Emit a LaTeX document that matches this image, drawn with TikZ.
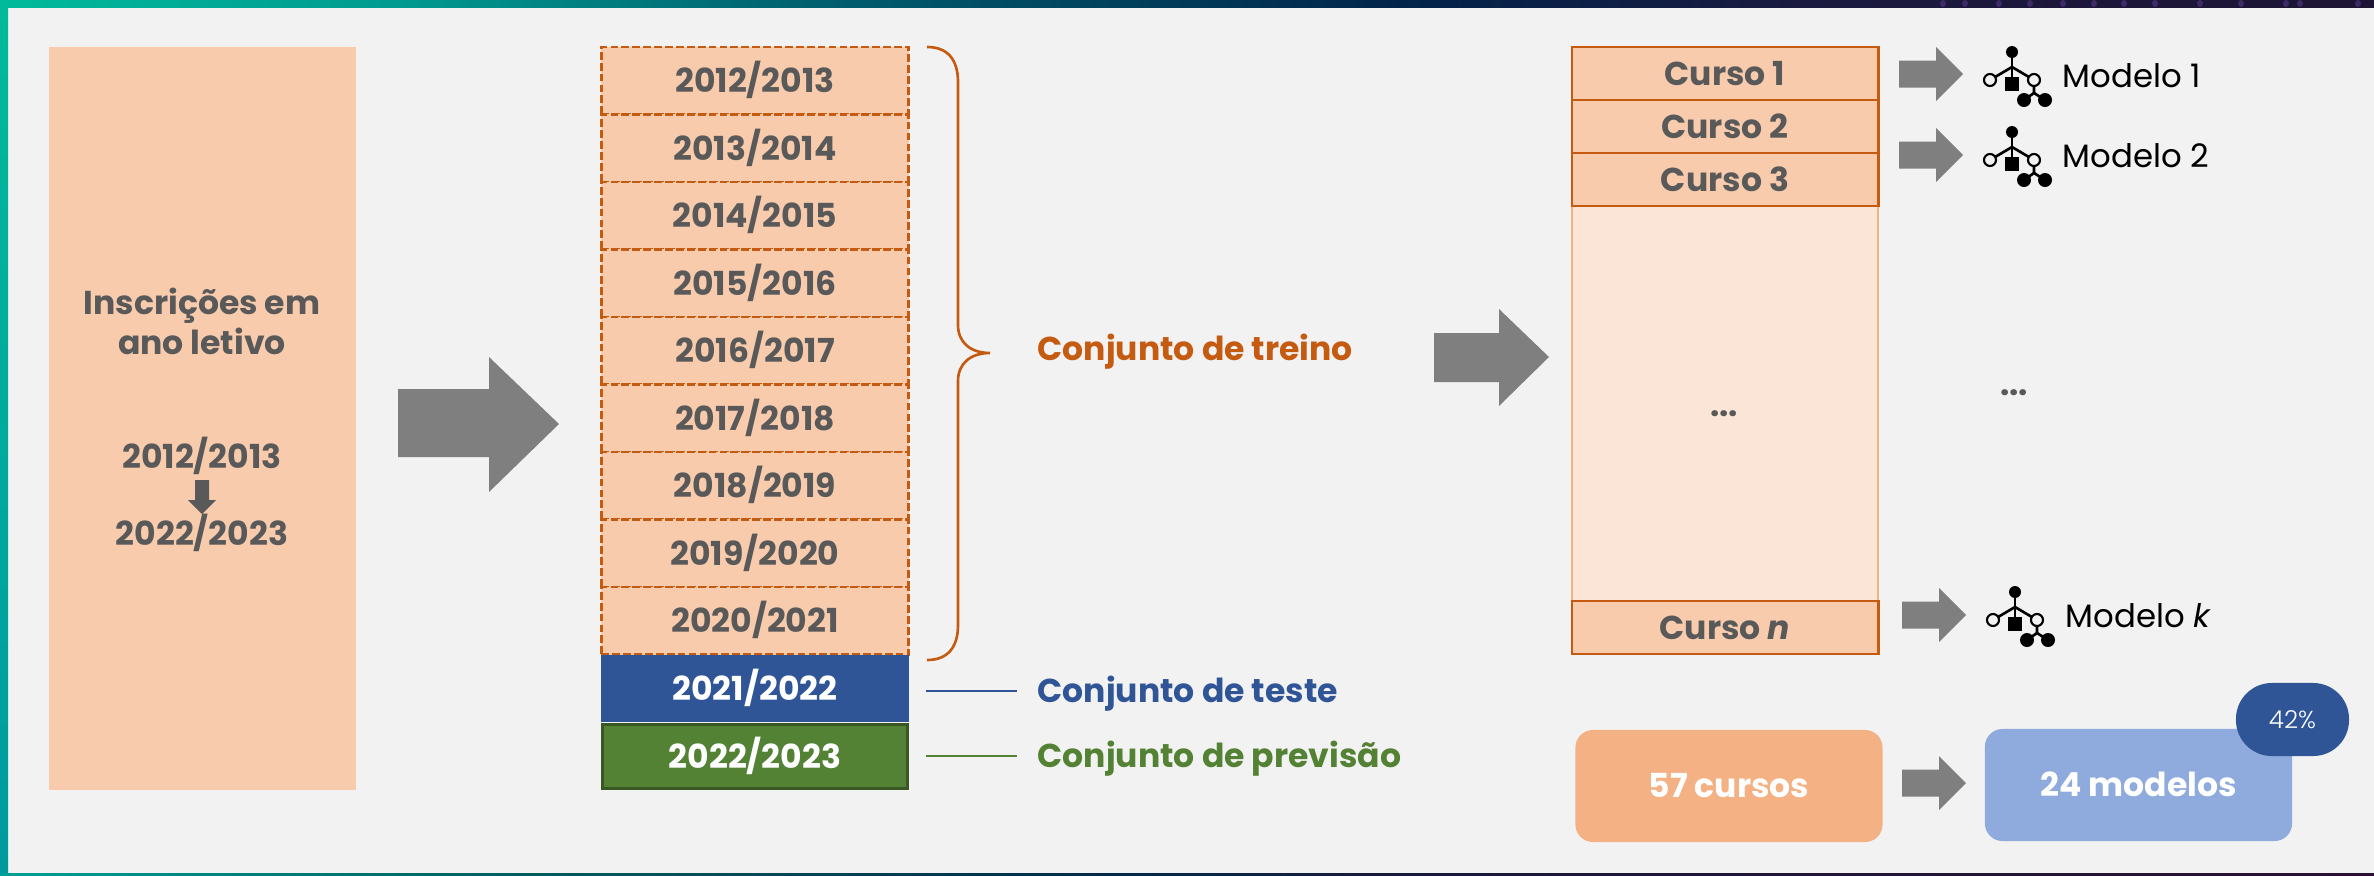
\documentclass[tikz,border=0pt]{standalone}
\usepackage{xcolor}
\usepackage{fontspec}
\setmainfont{Poppins}
\newfontfamily\lightfont{Poppins Light}
\usetikzlibrary{positioning, calc}

\definecolor{bggray}{HTML}{F2F2F2}
\definecolor{peach}{HTML}{F8CBAD}
\definecolor{peachlight}{HTML}{FBE5D6}
\definecolor{peachmid}{HTML}{F4B183}
\definecolor{rust}{HTML}{C55A11}
\definecolor{navy}{HTML}{2F5597}
\definecolor{skyblue}{HTML}{8FAADC}
\definecolor{leaf}{HTML}{548235}
\definecolor{leafdark}{HTML}{385723}
\definecolor{textgray}{HTML}{595959}
\definecolor{arrowgray}{HTML}{7F7F7F}
\definecolor{speck}{HTML}{3D2A66}

\tikzset{
	boldtext/.style={text height=6.8pt, text depth=0pt, font=\fontsize{9.4}{12}\selectfont\bfseries},
	yearbox/.style={boldtext, minimum width=3.07cm, minimum height=0.675cm, inner sep=0},
	trainyear/.style={yearbox, fill=peach, draw=rust, line width=0.8pt, dash pattern=on 2.2pt off 0.9pt, text=textgray},
	cursobox/.style={boldtext, minimum width=3.06cm, minimum height=0.53cm, inner sep=0, fill=peach, draw=rust, line width=0.8pt, text=textgray},
	setlabel/.style={boldtext, anchor=west, inner xsep=0.2cm, inner ysep=0},
	modelotext/.style={anchor=base west, inner sep=0, text=black, font=\fontsize{9.2}{11}\selectfont},
	sumbox/.style={boldtext, minimum width=3.07cm, minimum height=1.12cm, inner sep=0, rounded corners=5pt, text=white},
	lefttext/.style={boldtext, inner sep=0, text=textgray},
	dotstext/.style={inner sep=0, text=textgray, font=\fontsize{9.4}{12}\selectfont\bfseries},
	smallarrow/.pic={
		\fill [arrowgray] (0,-13.5) -- (37,-13.5) -- (37,-27) -- (64,0) -- (37,27) -- (37,13.5) -- (0,13.5) -- cycle;
	},
	treeicon/.pic={
		\draw [line width=0.75pt] (0,0) -- (0,30);
		\draw [line width=0.75pt] (-22,28) -- (0,15) -- (22,28) -- (22,42);
		\draw [line width=0.75pt] (12,48) -- (22,41) -- (33,48);
		\fill (0,0) circle (6);
		\fill (-7,25) rectangle (7,39);
		\draw [line width=0.6pt, fill=bggray] (-22,28) circle (6);
		\draw [line width=0.6pt, fill=bggray] (22,28) circle (6);
		\fill (12,48) circle (7);
		\fill (33,48) circle (7);
	}
}

\begin{document}
\begin{tikzpicture}[x=0.01cm, y=-0.01cm]
	\useasboundingbox (0,0) rectangle (2374,875);
	\fill [bggray] (0,0) rectangle (2374,875);

	% frame
	\foreach \xa/\xb/\ca/\cb in {0/400/00BA9B/009A90, 400/800/009A90/00616F, 800/1400/00616F/02244B, 1400/1800/02244B/1A1A40, 1800/2374/1A1A40/1E1433}{
		\definecolor{ca}{HTML}{\ca}
		\definecolor{cb}{HTML}{\cb}
		\shade [left color=ca, right color=cb] (\xa,0) rectangle (\xb,7);
	}
	\foreach \xa/\xb/\ca/\cb in {0/500/00A096/00605F, 500/1100/00605F/022B4A, 1100/1400/022B4A/1A1A3A, 1400/2374/1A1A3A/2A1030}{
		\definecolor{ca}{HTML}{\ca}
		\definecolor{cb}{HTML}{\cb}
		\shade [left color=ca, right color=cb] (\xa,873) rectangle (\xb,875);
	}
	\definecolor{ca}{HTML}{00BA9B}
	\definecolor{cb}{HTML}{009A9E}
	\shade [top color=ca, bottom color=cb] (0,7) rectangle (8,873);
	\foreach \x in {1943,1965,1999,2030,2063,2094,2124,2155,2200,2241,2286,2300,2358}
		\fill [speck] (\x,3.5) ellipse (3 and 3.5);

	% left column
	\node [fill=peach, inner sep=0, minimum width=3.07cm, minimum height=7.43cm] (inscr) at (202.5,418.5) {};
	\node [lefttext] (inscr1) at (202,303) {Inscrições em};
	\node [lefttext] (inscr2) at (202,343) {ano letivo};
	\node [lefttext] (from) at (202,457) {2012/2013};
	\node [lefttext] (to) at (202,534) {2022/2023};
	\fill [textgray] (195,480) -- (209,480) -- (209,500) -- (216,500) -- (202,514) -- (188,500) -- (195,500) -- cycle;

	\fill [arrowgray] (398,389) -- (489,389) -- (489,357) -- (559,424) -- (489,492) -- (489,457) -- (398,457) -- cycle;

	% years
	\foreach \lab [count=\i] in {2012/2013,2013/2014,2014/2015,2015/2016,2016/2017,2017/2018,2018/2019,2019/2020,2020/2021}
		\node [trainyear] (y\i) at (755,13.25+67.5*\i) {\lab};
	\node [yearbox, fill=navy, text=white] (y10) at (755,688.5) {2021/2022};
	\node [yearbox, fill=leaf, draw=leafdark, line width=0.8pt, text=white, minimum width=3.05cm, minimum height=0.645cm] (y11) at (755,756.5) {2022/2023};

	% brace
	\coordinate (bracetip) at (990,353);
	\draw [rust, line width=0.75pt] (927,47) .. controls (948,47) and (958,60) .. (958,82) -- (958,325) .. controls (958,342) and (970,353) .. (bracetip) .. controls (970,353) and (958,364) .. (958,381) -- (958,625) .. controls (958,647) and (948,660) .. (927,660);

	\node [setlabel, text=rust] (treino) at (1017,349) {Conjunto de treino};
	\node [setlabel, text=navy] (teste) at (1017,691) {Conjunto de teste};
	\node [setlabel, text=leaf] (previsao) at (1017,756) {Conjunto de previsão};
	\coordinate (testestart) at (926,691);
	\coordinate (prevstart) at (926,756);
	\draw [navy, line width=0.6pt] (testestart) -- (teste.west);
	\draw [leaf, line width=0.6pt] (prevstart) -- (previsao.west);

	\fill [arrowgray] (1434,333) -- (1499,333) -- (1499,309) -- (1549,357) -- (1499,406) -- (1499,382) -- (1434,382) -- cycle;

	% cursos
	\node [minimum width=3.06cm, minimum height=3.95cm, inner sep=0, fill=peachlight, draw=peachmid, line width=0.5pt] (resto) at (1725,403.5) {};
	\node [cursobox] (curso1) at (1725,73.5) {Curso 1};
	\node [cursobox] (curso2) at (1725,126.5) {Curso 2};
	\node [cursobox] (curso3) at (1725,179.5) {Curso 3};
	\node [cursobox] (curson) at (1725,627.5) {Curso \textit{n}};
	\node [dotstext] (dots1) at (1724,414) {...};
	\node [dotstext] (dots2) at (2014,393) {...};

	% modelos
	\pic at (1899,74) {smallarrow};
	\pic at (1899,155) {smallarrow};
	\pic at (1902,615) {smallarrow};
	\pic at (2012,52) {treeicon};
	\pic at (2012,132) {treeicon};
	\pic at (2015,592) {treeicon};
	\node [modelotext] (modelo1) at (2062,87) {Modelo 1};
	\node [modelotext] (modelo2) at (2062,167) {Modelo 2};
	\node [modelotext] (modelok) at (2065,627) {Modelo \textit{k}};

	% resumo
	\node [sumbox, fill=peachmid] (cursos) at (1729,786) {57 cursos};
	\node [sumbox, fill=skyblue] (modelos) at (2138.5,785) {24 modelos};
	\pic at (1902,783) {smallarrow};
	\node [fill=navy, rounded corners=10.2pt, minimum width=1.13cm, minimum height=0.73cm, inner sep=0, text=white, font=\fontsize{7}{8}\selectfont\lightfont] (pct) at (2292.5,719.5) {42\%};
\end{tikzpicture}
\end{document}
